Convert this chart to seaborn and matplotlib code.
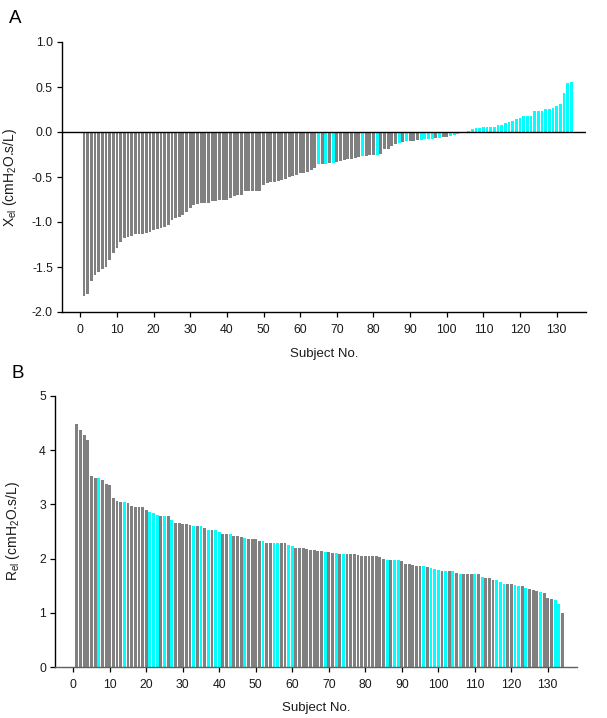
import numpy as np
import pandas as pd
import matplotlib
matplotlib.use("Agg")
import matplotlib.pyplot as plt
import seaborn as sns

# ---------------- data ----------------
subjects = list(range(1, 135))

xel_values = [
    -1.82, -1.80, -1.65, -1.59, -1.56, -1.52, -1.50, -1.42, -1.34, -1.29,
    -1.22, -1.18, -1.17, -1.16, -1.13, -1.13, -1.13, -1.12, -1.11, -1.09,
    -1.08, -1.07, -1.05, -1.03, -0.98, -0.95, -0.94, -0.92, -0.89, -0.84,
    -0.81, -0.80, -0.79, -0.79, -0.79, -0.77, -0.77, -0.76, -0.76, -0.75,
    -0.73, -0.71, -0.70, -0.70, -0.66, -0.66, -0.66, -0.65, -0.65, -0.59,
    -0.57, -0.55, -0.55, -0.54, -0.53, -0.52, -0.50, -0.49, -0.48, -0.46,
    -0.45, -0.44, -0.42, -0.40, -0.36, -0.36, -0.35, -0.345, -0.34, -0.33,
    -0.32, -0.31, -0.305, -0.30, -0.29, -0.28, -0.27, -0.265, -0.26, -0.255,
    -0.25, -0.24, -0.19, -0.19, -0.15, -0.13, -0.12, -0.115, -0.105, -0.10,
    -0.095, -0.09, -0.085, -0.08, -0.078, -0.075, -0.07, -0.065, -0.06, -0.055,
    -0.04, -0.03, -0.025, -0.015, -0.008, 0.015, 0.033, 0.04, 0.044, 0.052,
    0.06, 0.06, 0.06, 0.078, 0.08, 0.096, 0.115, 0.126, 0.15, 0.16,
    0.174, 0.18, 0.18, 0.237, 0.237, 0.237, 0.255, 0.26, 0.267, 0.29,
    0.31, 0.43, 0.55, 0.56,
]
xel_cyan_subjects = [65, 67, 69, 77, 81, 87, 89, 93, 94, 95, 96, 98,
                     101, 102, 103, 104, 105] + list(range(106, 135))

rel_values = [
    4.49, 4.37, 4.28, 4.19, 3.52, 3.49, 3.49, 3.45, 3.37, 3.35,
    3.12, 3.06, 3.05, 3.04, 3.03, 2.97, 2.96, 2.96, 2.95, 2.89,
    2.86, 2.85, 2.81, 2.79, 2.78, 2.78, 2.72, 2.66, 2.66, 2.645,
    2.63, 2.62, 2.61, 2.60, 2.60, 2.57, 2.53, 2.53, 2.52, 2.49,
    2.46, 2.46, 2.46, 2.42, 2.41, 2.40, 2.38, 2.36, 2.36, 2.36,
    2.32, 2.32, 2.29, 2.28, 2.28, 2.28, 2.28, 2.28, 2.25, 2.23,
    2.20, 2.19, 2.19, 2.18, 2.16, 2.16, 2.14, 2.14, 2.13, 2.12,
    2.11, 2.10, 2.09, 2.09, 2.09, 2.09, 2.08, 2.06, 2.05, 2.05,
    2.04, 2.04, 2.04, 2.03, 2.00, 1.98, 1.97, 1.97, 1.97, 1.95,
    1.90, 1.90, 1.89, 1.87, 1.86, 1.86, 1.85, 1.83, 1.80, 1.79,
    1.77, 1.77, 1.77, 1.77, 1.74, 1.72, 1.72, 1.72, 1.71, 1.71,
    1.71, 1.66, 1.64, 1.64, 1.60, 1.60, 1.56, 1.54, 1.53, 1.53,
    1.51, 1.49, 1.49, 1.45, 1.43, 1.42, 1.40, 1.38, 1.37, 1.27,
    1.26, 1.23, 1.16, 0.99,
]
rel_cyan_subjects = [7, 14, 21, 22, 23, 25, 27, 33, 35, 37, 39, 40, 43, 47, 52,
                     55, 56, 59, 60, 69, 72, 74, 86, 88, 89, 96, 98, 99, 100,
                     102, 104, 106, 110, 112, 116, 117, 118, 121, 122, 124,
                     128, 132, 133]

x_ticks = list(range(0, 131, 10))
xel_ticks = [-2.0, -1.5, -1.0, -0.5, 0.0, 0.5, 1.0]
rel_ticks = [0, 1, 2, 3, 4, 5]

GRAY = "#808080"
CYAN = "#00FFFF"

dfA = pd.DataFrame({"subject": subjects, "value": xel_values})
dfA["group"] = ["c" if s in xel_cyan_subjects else "g" for s in subjects]
dfB = pd.DataFrame({"subject": subjects, "value": rel_values})
dfB["group"] = ["c" if s in rel_cyan_subjects else "g" for s in subjects]

# ---------------- style ----------------
sns.set_style("ticks")
plt.rcParams["font.family"] = ["Liberation Sans", "DejaVu Sans"]
plt.rcParams["axes.unicode_minus"] = False
plt.rcParams["mathtext.default"] = "regular"

W, H = 607, 718
fig = plt.figure(figsize=(W / 100, H / 100), dpi=100)

def px_axes(left, right, top, bottom):
    return fig.add_axes([left / W, 1 - bottom / H, (right - left) / W, (bottom - top) / H])

axA = px_axes(62, 586, 42, 312)
axB = px_axes(55, 577, 396, 667)

pal = {"g": GRAY, "c": CYAN}
for ax, df in ((axA, dfA), (axB, dfB)):
    sns.barplot(data=df, x="subject", y="value", hue="group", palette=pal,
                native_scale=True, dodge=False, width=0.78, legend=False,
                errorbar=None, saturation=1, linewidth=0, edgecolor="none", ax=ax)
    ax.set_xlim(-5, 138)
    ax.set_xticks(x_ticks)
    ax.set_xticklabels([str(t) for t in x_ticks])
    for sp in ("top", "right"):
        ax.spines[sp].set_visible(False)
    for sp in ("left", "bottom"):
        ax.spines[sp].set_linewidth(1.0)
        ax.spines[sp].set_color("black")
    ax.tick_params(direction="out", length=3.5, width=0.9, labelsize=8.8,
                   colors="black", labelcolor="#1a1a1a", pad=3)
    ax.tick_params(axis="x", pad=5)

axA.set_xlabel("Subject No.", fontsize=9.5, color="#1a1a1a", labelpad=9)
axB.set_xlabel("Subject No.", fontsize=9.5, color="#1a1a1a", labelpad=8)

axA.set_ylim(-2.0, 1.0)
axA.set_yticks(xel_ticks)
axA.set_yticklabels([f"{t:.1f}" for t in xel_ticks])
axA.axhline(0, color="black", lw=1.0, zorder=5)
axA.set_ylabel(r"X$_{el}$ (cmH$_{2}$O.s/L)", fontsize=10, color="#1a1a1a", labelpad=9)

axB.set_ylim(0, 5)
axB.set_yticks(rel_ticks)
axB.set_yticklabels([str(t) for t in rel_ticks])
axB.spines["bottom"].set_color("#606060")
axB.set_ylabel(r"R$_{el}$ (cmH$_{2}$O.s/L)", fontsize=10, color="#1a1a1a", labelpad=12)

fig.text(9 / W, 1 - 23 / H, "A", fontsize=13.5, color="black")
fig.text(12 / W, 1 - 378 / H, "B", fontsize=13.5, color="black")

fig.savefig("out.png", dpi=100)
